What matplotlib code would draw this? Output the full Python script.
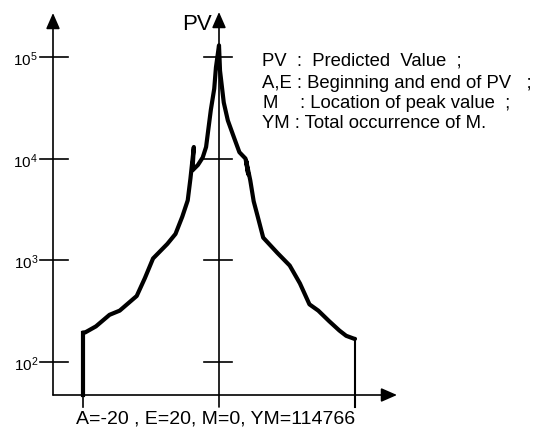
import numpy as np
import matplotlib
matplotlib.use('Agg')
import matplotlib.pyplot as plt

plt.rcParams['font.family'] = ['Liberation Sans', 'DejaVu Sans']
plt.rcParams['mathtext.fontset'] = 'custom'
plt.rcParams['mathtext.rm'] = 'Liberation Sans'

# values (position vs predicted value)
A, E, M, YM = -20, 20, 0, 114766

pos_left = [-20, -19.7, -18.1, -16.1, -14.6, -12.1, -10.9, -9.7, -7.6, -6.4,
            -5.4, -4.6, -4.2, -3.7, -3.9, -3.1, -2.4, -1.9, -1.6, -1.2,
            -0.7, -0.45, 0]
pv_left = [195, 195, 224, 291, 320, 446, 668, 1042, 1449, 1815,
           2683, 3882, 6368, 13000, 7655, 8660, 10240, 13000, 18660, 30140,
           48700, 78700, 130000]

pos_right = [0.15, 0.7, 1.3, 2.2, 3.0, 3.9, 4.3, 4.0, 4.6, 5.1, 5.7, 6.5,
             8.6, 10.4, 11.9, 13.3, 14.6, 16.2, 17.7, 18.7, 19.9, 20]
pv_right = [73200, 35600, 23700, 16150, 11550, 10000, 7000, 9500, 6105, 3802, 2683, 1671,
            1179, 888, 593, 369, 320, 252, 204, 181, 169, 169]

decades = [2, 3, 4, 5]

legend_lines = ["PV  :  Predicted  Value  ;",
                "A,E : Beginning and end of PV   ;",
                "M",
                "YM : Total occurrence of M."]
bottom_label = "A=-20 , E=20, M=0, YM=114766"

W, H = 535, 434


# pixel helpers for placing the hand-drawn style axes
def px_x(p):
    return (p - 219) / 6.8


def px_y(p):
    return 10 ** (2 + (362 - p) / 101.7)


fig = plt.figure(figsize=(W / 100, H / 100), dpi=100)
ax = fig.add_axes([0, 0, 1, 1])
ax.set_yscale('log')
ax.set_xlim(px_x(0), px_x(W))
ax.set_ylim(px_y(H), px_y(0))
ax.axis('off')

y_base = px_y(395)
x_axis = px_x(53)
arrow = dict(arrowstyle='-|>,head_length=0.8,head_width=0.35', mutation_scale=12,
             lw=1.2, color='k', shrinkA=0, shrinkB=0)

# left axis, centre axis, bottom axis
ax.annotate('', xy=(x_axis, px_y(13)), xytext=(x_axis, y_base), arrowprops=arrow)
ax.annotate('', xy=(0, px_y(12)), xytext=(0, px_y(407)), arrowprops=arrow)
ax.annotate('', xy=(px_x(397), y_base), xytext=(x_axis, y_base), arrowprops=arrow)

for k in decades:
    ax.plot([px_x(40), px_x(68)], [10 ** k] * 2, color='k', lw=1.2)
    ax.plot([px_x(204), px_x(232)], [10 ** k] * 2, color='k', lw=1.2)
    ax.annotate(r'$\mathregular{10^{%d}}$' % k, xy=(px_x(38), 10 ** k),
                xytext=(0, -6.5), textcoords='offset points',
                ha='right', va='baseline', fontsize=11)

# the curve
pos_all = pos_left + pos_right
pv_all = pv_left + pv_right
ax.plot(pos_all, pv_all, color='k', lw=3, solid_joinstyle='round',
        solid_capstyle='round')
ax.plot([A, A], [y_base, pv_left[0]], color='k', lw=3)
ax.plot([A, A], [px_y(407), y_base], color='k', lw=1.2)
ax.plot([E, E], [px_y(407), pv_right[-1]], color='k', lw=1.5)

# texts
fig.text(197 / W, 1 - 24 / H, "PV", ha='center', va='center', fontsize=16)
line_y = [61, 83, 104, 124]
for s, yy in zip(legend_lines, line_y):
    fig.text(262 / W, 1 - yy / H, s, ha='left', va='center', fontsize=13.3)
fig.text(300 / W, 1 - line_y[2] / H, ": Location of peak value  ;", ha='left',
         va='center', fontsize=13.3)
fig.text(216 / W, 1 - 419 / H, bottom_label, ha='center', va='center', fontsize=14)

fig.savefig('out.png', dpi=100)
